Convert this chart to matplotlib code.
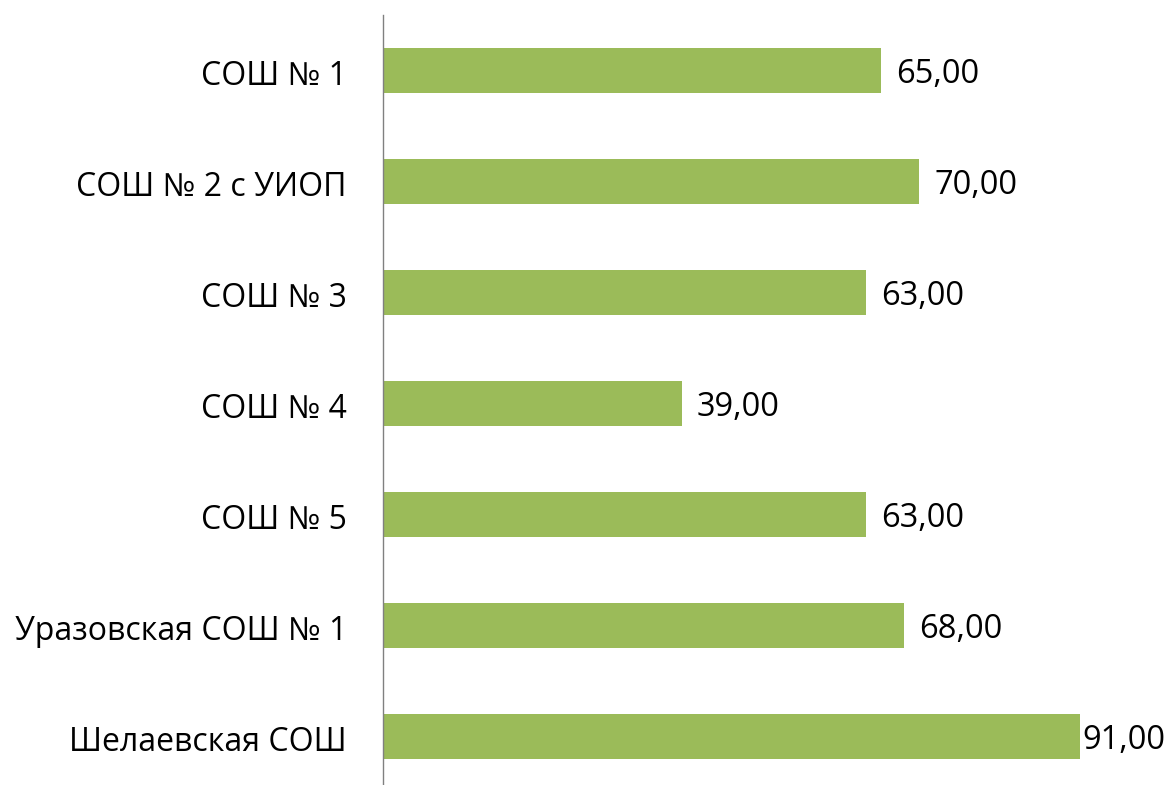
import matplotlib.pyplot as plt

plt.rcParams['font.family'] = ['Open Sans', 'DejaVu Sans']

schools = ['СОШ № 1', 'СОШ № 2 с УИОП', 'СОШ № 3', 'СОШ № 4', 'СОШ № 5',
           'Уразовская СОШ № 1', 'Шелаевская СОШ']
values = [65, 70, 63, 39, 63, 68, 91]

fig = plt.figure(figsize=(11.73, 7.85), dpi=100)
ax = fig.add_axes([383 / 1173, -7 / 785, (1149 - 383) / 1173, 777 / 785])

pos = list(range(len(schools)))
ax.barh(pos, values, height=0.4, color='#9BBB59')
for p, v in zip(pos, values):
    # the last label is pulled in so it stays inside the figure
    ax.text(min(v + 2, 91.3), p + 0.04, f'{v:.2f}'.replace('.', ','),
            va='center', ha='left', fontsize=23.5, color='black')

ax.set_xlim(0, 100)
ax.set_ylim(len(schools) - 0.5, -0.5)
ax.set_yticks([p + 0.02 for p in pos])
ax.set_yticklabels(schools, fontsize=23)
ax.tick_params(axis='y', length=0, pad=26)
ax.set_xticks([])
for s in ['top', 'right', 'bottom']:
    ax.spines[s].set_visible(False)
ax.spines['left'].set_color('#808080')
ax.spines['left'].set_linewidth(1)

fig.savefig('out.png', dpi=100)
